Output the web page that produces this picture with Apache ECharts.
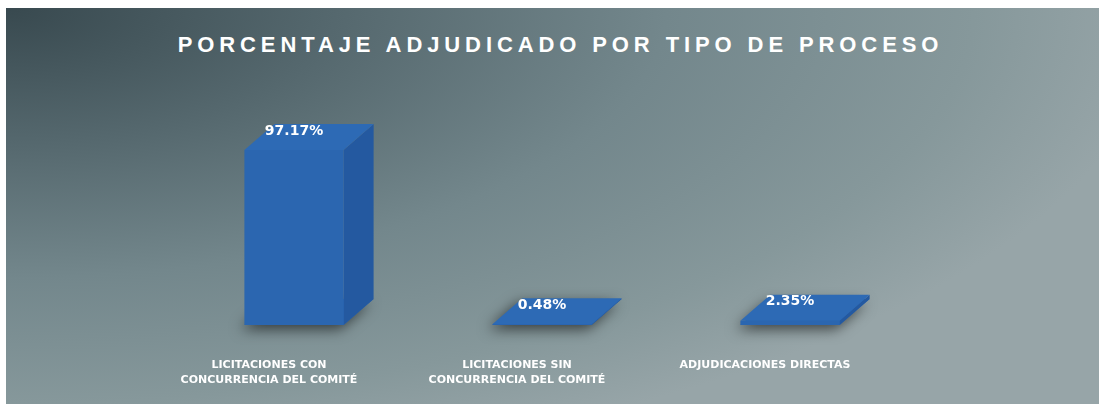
<!DOCTYPE html>
<html>
<head>
<meta charset="utf-8">
<script src="https://cdn.jsdelivr.net/npm/echarts@6/dist/echarts.min.js"></script>
<style>
  html, body { margin: 0; padding: 0; background: #fff; }
  #wrap { position: relative; width: 1099px; height: 404px; overflow: hidden; background: #fff; }
  #bg {
    position: absolute; left: 6px; top: 8px; right: 0; bottom: 0;
    background: radial-gradient(ellipse 1100px 450px at 0 0,
      #38494f 0%, #55686e 30%, #73878c 60%, #86989b 88%, #97a5a8 105%);
  }
  #title {
    position: absolute; left: 11px; top: 32px; width: 1099px; text-align: center;
    color: #fff; font-family: "Liberation Sans", Arial, sans-serif; font-weight: bold;
    font-size: 22px; letter-spacing: 4.9px; line-height: 26px;
  }
  #myChart { position: absolute; left: 0; top: 0; width: 1099px; height: 404px; }
</style>
</head>
<body>
<div id="wrap">
  <div id="bg"></div>
  <div id="title">PORCENTAJE ADJUDICADO POR TIPO DE PROCESO</div>
  <div id="myChart"></div>
</div>
<script>
// categorias y porcentajes
var categorias = [
  'LICITACIONES CON\nCONCURRENCIA DEL COMITÉ',
  'LICITACIONES SIN\nCONCURRENCIA DEL COMITÉ',
  'ADJUDICACIONES DIRECTAS'
];
var porcentajes = [97.17, 0.48, 2.35];

var colorFrente = '#2b66b0';
var colorLado = '#2459a0';
var colorTapa = '#2d6ab5';
var prof = [30, -26]; // profundidad del cubo (dx, dy)

function renderBarra (params, api) {
  var idx = api.value(0);
  var val = api.value(1);
  var top = api.coord([idx, val]);
  var base = api.coord([idx, 0]);
  var w = api.size([1, 0])[0] * 0.4;
  var x0 = top[0] - w / 2, x1 = top[0] + w / 2;
  var yT = top[1], yB = base[1];
  var dx = prof[0], dy = prof[1];
  var sombra = {
    shadowBlur: 14, shadowColor: 'rgba(0,0,0,0.6)', shadowOffsetX: -4, shadowOffsetY: 4
  };
  return {
    type: 'group',
    children: [
      {
        type: 'polygon',
        shape: { points: [[x0, yB], [x1, yB], [x1 + dx, yB + dy], [x0 + dx, yB + dy]] },
        style: Object.assign({ fill: colorFrente }, sombra)
      },
      {
        type: 'polygon',
        shape: { points: [[x1, yT], [x1 + dx, yT + dy], [x1 + dx, yB + dy], [x1, yB]] },
        style: { fill: colorLado }
      },
      {
        type: 'rect',
        shape: { x: x0, y: yT, width: w, height: Math.max(yB - yT, 0) },
        style: { fill: colorFrente }
      },
      {
        type: 'polygon',
        shape: { points: [[x0, yT], [x0 + dx, yT + dy], [x1 + dx, yT + dy], [x1, yT]] },
        style: { fill: colorTapa }
      },
      {
        type: 'text',
        style: {
          x: top[0], y: yT + dy + 7,
          text: val.toFixed(2) + '%',
          fill: '#fff', font: 'bold 14px "DejaVu Sans"',
          align: 'center', verticalAlign: 'middle'
        }
      }
    ]
  };
}

var myChart = echarts.init(document.getElementById('myChart'));
myChart.setOption({
  backgroundColor: 'transparent',
  animation: false,
  grid: { left: 170, right: 185, top: 145, bottom: 79 },
  xAxis: {
    type: 'category',
    data: categorias,
    axisLine: { show: false },
    axisTick: { show: false },
    axisLabel: {
      interval: 0,
      color: '#fff',
      fontFamily: 'DejaVu Sans',
      fontWeight: 'bold',
      fontSize: 11,
      lineHeight: 15,
      margin: 33,
      padding: [0, 50, 0, 0],
      verticalAlign: 'top'
    }
  },
  yAxis: {
    type: 'value', min: 0, max: 100, show: false,
    splitLine: { show: false }
  },
  series: [{
    type: 'custom',
    renderItem: renderBarra,
    data: porcentajes.map(function (v, i) { return [i, v]; })
  }]
});
</script>
</body>
</html>
